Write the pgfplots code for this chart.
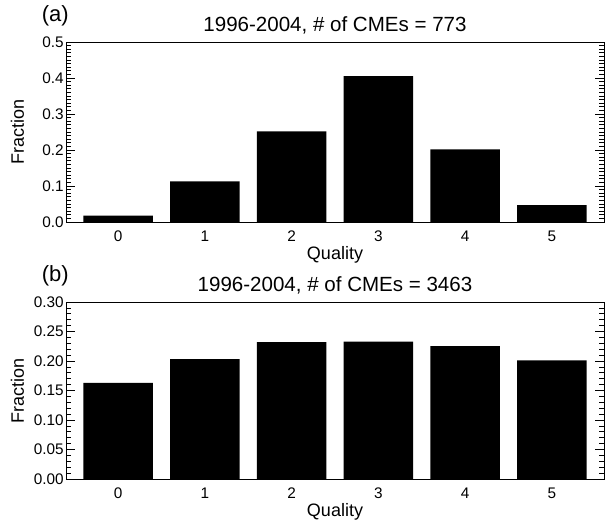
\documentclass[border=0pt]{standalone}
\usepackage{fontspec}
\setmainfont{Liberation Sans}
\usepackage{pgfplots}
\pgfplotsset{compat=1.18}
\begin{document}
\begin{tikzpicture}
\useasboundingbox (0,0) rectangle (455.25pt,390pt);
\pgfplotsset{
  panel/.style={
    scale only axis,
    width=403.5pt,
    anchor=south west,
    xmin=-0.6, xmax=5.6, ymin=0,
    xtick={0,...,5},
    ybar, bar width=0.8,
    axis line style={black, line width=0.6pt},
    tick align=inside,
    ytick pos=both,
    xtick pos=bottom,
    major x tick style={draw=none},
    major tick length=7pt,
    minor tick length=3.75pt,
    tick style={black, line width=0.5pt},
    /pgf/number format/assume math mode=true,
    ticklabel style={font=\fontsize{11.5}{13}\selectfont},
    yticklabel style={inner sep=1.5pt},
    xticklabel style={inner sep=1pt, yshift=-5.5pt},
    xlabel={Quality},
    label style={font=\fontsize{13.5}{15}\selectfont},
    xlabel style={at={(axis description cs:0.5,0)}, anchor=north, yshift=-15pt},
  }
}
% panel (a)
\begin{axis}[panel, height=135pt, at={(49.5pt,223.5pt)},
  ymax=0.5, ytick={0,0.1,...,0.5}, minor y tick num=9,
  yticklabel style={/pgf/number format/.cd, fixed, fixed zerofill, precision=1}]
\addplot[fill=black, draw=none] coordinates {
  (0,0.018) (1,0.113) (2,0.252) (3,0.405) (4,0.202) (5,0.047)};
\end{axis}
\node[font=\fontsize{15.4}{18}\selectfont] at (251.25pt,371pt) {1996-2004, \# of CMEs = 773};
\node[font=\fontsize{16.5}{19}\selectfont] at (41.5pt,378pt) {(a)};
\node[font=\fontsize{13.5}{15}\selectfont, rotate=90] at (13pt,291pt) {Fraction};
% panel (b)
\begin{axis}[panel, height=132.75pt, at={(49.5pt,30.75pt)},
  ymax=0.3, ytick={0,0.05,...,0.3}, minor y tick num=4,
  yticklabel style={/pgf/number format/.cd, fixed, fixed zerofill, precision=2}]
\addplot[fill=black, draw=none] coordinates {
  (0,0.163) (1,0.203) (2,0.232) (3,0.233) (4,0.225) (5,0.201)};
\end{axis}
\node[font=\fontsize{15.4}{18}\selectfont] at (251.25pt,176pt) {1996-2004, \# of CMEs = 3463};
\node[font=\fontsize{16.5}{19}\selectfont] at (41.5pt,183pt) {(b)};
\node[font=\fontsize{13.5}{15}\selectfont, rotate=90] at (13pt,97pt) {Fraction};
\end{tikzpicture}
\end{document}
